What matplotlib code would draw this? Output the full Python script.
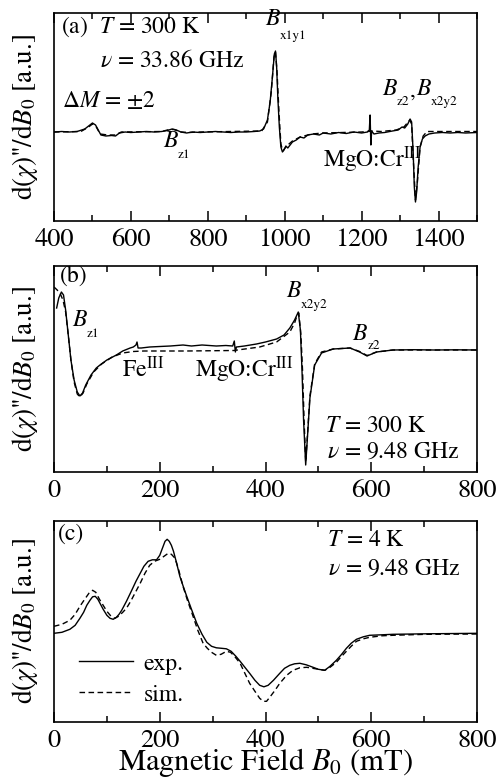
import matplotlib
matplotlib.use("Agg")
import matplotlib.pyplot as plt
from matplotlib.ticker import MultipleLocator

plt.rcParams['font.family'] = ['STIXGeneral', 'DejaVu Serif']
plt.rcParams['mathtext.fontset'] = 'stix'

# ---------------- data ----------------
# panel (a): 33.86 GHz, 300 K
a_exp_B = [400, 420, 440, 460, 480, 490, 500, 508, 515, 522, 535, 550, 560, 570, 585, 600, 620, 640,
           660, 680, 695, 707, 718, 730, 745, 760, 780, 800, 820, 840, 860, 880, 900, 920, 935, 945,
           955, 962, 968, 973, 976, 979, 982, 986, 990, 994, 998, 1003, 1008, 1014, 1020, 1030, 1040,
           1050, 1060, 1075, 1090, 1100, 1120, 1140, 1160, 1180, 1200, 1215, 1220, 1222, 1224, 1226,
           1232, 1245, 1260, 1280, 1295, 1305, 1312, 1320, 1326, 1330, 1334, 1337, 1340, 1343, 1347,
           1352, 1358, 1365, 1375, 1390, 1410, 1430, 1450, 1470, 1500]
a_exp_y = [0, 0.5, 0, 0.5, 3, 6, 9, 7, 2, -3, -4, -3.5, -4, -1, 0, -0.5, 0, 0.5,
           0, 0.5, 1.5, 3, 2, 0, -1, 0, -0.5, 0, 0.5, 0, -0.5, 0, 0, 0.5, 1, 3,
           12, 30, 55, 78, 81, 65, 35, 5, -15, -20, -18, -14, -16, -13, -10, -8, -5,
           -6, -3, -2, -3, -1, -2, -0.5, -1.5, 0, -1, 0, 2, 17, -13, 1,
           -2, -1, -0.5, 1, 2, 5, 4, 8, 13, 10, -20, -55, -70, -60, -35,
           -15, -7, -4, -2, -1, -0.5, -1, -0.5, -1, -0.5]
a_sim_B = [400, 470, 490, 500, 510, 520, 540, 560, 575, 680, 700, 712, 730, 750, 780, 940, 955, 965,
           972, 976, 980, 985, 990, 995, 1005, 1020, 1040, 1070, 1100, 1200, 1230, 1250, 1290, 1310,
           1325, 1330, 1334, 1340, 1345, 1352, 1360, 1370, 1500]
a_sim_y = [0, 0.5, 5, 8, 5, -2, -3, -3, 0, 0.5, 2.5, 2.5, 0, -0.5, 0, 1, 10, 40,
           75, 80, 60, 20, -12, -19, -14, -9, -5, -2, -1, 0, 1, 0.5, 2, 5,
           12, 8, -25, -68, -50, -15, -4, 0.5, 0.5]

# panel (b): 9.48 GHz, 300 K
b_exp_B = [5, 9, 14, 18, 22, 27, 32, 38, 44, 49, 54, 60, 70, 80, 87, 100, 118, 130, 144, 150, 155,
           157, 159, 165, 181, 200, 220, 244, 260, 280, 307, 325, 338, 341, 343, 345, 360, 383, 400,
           421, 435, 446, 455, 462, 466, 469, 472, 476, 479, 484, 493, 506, 528, 560, 578, 592, 610,
           641, 680, 720, 760, 800]
b_exp_y = [42, 52, 58, 55, 40, 15, -10, -30, -42, -46, -43, -35, -25, -18, -15, -10, -5, -1, 2, 3, 5,
           8, 2, 2, 3, 3.5, 4, 5, 4, 5, 4, 4.5, 4, 9, -2, 3, 4, 6, 8,
           11, 15, 22, 30, 38, 20, -20, -70, -115, -90, -48, -15, -3, 1, 2, -2, -6, -2,
           0, 0.3, 0, 0.2, 0]
b_sim_B = [0, 6, 12, 17, 22, 27, 32, 38, 44, 49, 55, 62, 75, 90, 110, 130, 150, 170, 250, 340, 389,
           421, 446, 455, 460, 463, 467, 470, 473, 476, 479, 484, 493, 506, 528, 560, 578, 592, 610,
           641, 800]
b_sim_y = [63, 60, 56, 50, 38, 15, -10, -32, -44, -47, -43, -34, -22, -14, -7, -3, -1.5, -1, -1, -0.5, 3,
           8, 18, 27, 35, 37, 15, -20, -70, -112, -88, -46, -14, -2, 1, 2, -1.5, -5.5, -2,
           0, 0]

# panel (c): 9.48 GHz, 4 K
c_exp_B = [0, 15, 30, 40, 49, 56, 62, 68, 73, 78, 83, 88, 93, 100, 106, 112, 118, 123, 128, 137,
           147, 155, 163, 170, 178, 186, 194, 200, 205, 210, 214, 218, 222, 226, 232, 238, 245, 251,
           260, 270, 280, 289, 298, 307, 317, 326, 335, 344, 352, 361, 370, 380, 389, 397, 405, 415,
           427, 436, 446, 455, 465, 477, 490, 500, 512, 522, 534, 544, 553, 562, 572, 585, 597, 620,
           641, 704, 800]
c_exp_y = [0, 1, 4, 8, 15, 21, 28, 33, 36.5, 37, 34, 29, 24, 18, 15, 14, 16, 19, 23, 32,
           43, 52, 60, 67, 72, 73.5, 73.5, 78, 85, 92, 94, 92, 88, 82, 70, 57, 46, 37,
           24, 10, -1, -9, -13, -14.5, -15, -15.5, -18, -23, -28, -34, -40, -47, -52, -53.5, -52, -47,
           -40, -35, -32, -30.5, -30, -31.5, -34, -36, -37, -33, -27, -21, -15, -10, -6, -3.5, -2, -1.5,
           -1, -0.5, 0]
c_sim_B = [0, 15, 30, 40, 49, 58, 66, 73, 79, 86, 93, 100, 108, 115, 122, 130, 137, 145, 155, 163,
           172, 181, 190, 200, 208, 216, 222, 229, 236, 244, 253, 263, 272, 282, 290, 298, 307, 316,
           326, 334, 343, 352, 361, 370, 380, 389, 396, 402, 408, 418, 427, 440, 452, 465, 478, 495,
           512, 522, 534, 544, 553, 562, 572, 585, 597, 620, 641, 704, 800]
c_sim_y = [7, 9, 13, 19, 27, 34, 40, 43, 41, 34, 28, 22, 17, 15, 17, 21, 25, 32, 42, 50,
           60, 68, 72, 74, 77, 80, 79, 75, 63, 47, 32, 17, 3, -10, -15, -19, -22, -21,
           -18, -19, -24, -30, -40, -50, -58, -65, -68, -68, -64, -57, -50, -42, -37, -34.5, -34, -35.5,
           -37, -34, -29, -23, -18, -13, -8, -5.5, -4, -2.5, -2, -1, -0.7]

# ---------------- figure ----------------
W, H = 496, 784
fig = plt.figure(figsize=(W / 100, H / 100), dpi=100)


def make_axes(top, bottom):
    left, right = 54, 477
    return fig.add_axes([left / W, 1 - bottom / H, (right - left) / W, (bottom - top) / H])


def style(ax, xlim, ylim, major, minor):
    ax.set_xlim(*xlim)
    ax.set_ylim(*ylim)
    ax.xaxis.set_major_locator(MultipleLocator(major))
    ax.xaxis.set_minor_locator(MultipleLocator(minor))
    ax.set_yticks([])
    ax.tick_params(axis='x', which='both', direction='in', top=True, bottom=True,
                   labelsize=19, width=1.1, pad=5)
    ax.tick_params(axis='x', which='major', length=7)
    ax.tick_params(axis='x', which='minor', length=4.5)
    for s in ax.spines.values():
        s.set_linewidth(1.2)
    ax.set_ylabel("d($\\chi$)''/d$B_0$ [a.u.]", fontsize=19.5)
    ax.yaxis.set_label_coords(-0.032, 0.5)


def ftext(x, y, s, size=17, **kw):
    fig.text(x / W, 1 - y / H, s, fontsize=size, va='baseline', ha='left', **kw)


def bsub(x, y, sub, xs, ys):
    ftext(x, y, "$B$")
    ftext(xs, ys, sub, size=9.5)


lw = 1.0
dash = (0, (4, 2.5))
ax1 = make_axes(12.7, 220.7)
ax1.plot(a_exp_B, a_exp_y, color='black', lw=lw)
ax1.plot(a_sim_B, a_sim_y, color='black', lw=lw, ls=dash)
style(ax1, (400, 1500), (-88.7, 119.3), 200, 100)

ax2 = make_axes(265.5, 472)
ax2.plot(b_exp_B, b_exp_y, color='black', lw=lw)
ax2.plot(b_sim_B, b_sim_y, color='black', lw=lw, ls=dash)
style(ax2, (0, 800), (-122, 84.5), 200, 100)

ax3 = make_axes(521, 722)
l1, = ax3.plot(c_exp_B, c_exp_y, color='black', lw=lw, label='exp.')
l2, = ax3.plot(c_sim_B, c_sim_y, color='black', lw=lw, ls=dash, label='sim.')
style(ax3, (0, 800), (-88.7, 112.3), 200, 100)
ax3.legend(handles=[l1, l2], loc='lower left', bbox_to_anchor=(0.036, 0.035), frameon=False,
           fontsize=17, handlelength=2.3, handletextpad=0.45, labelspacing=0.4, borderaxespad=0)
fig.text(265 / W, 1 - 770 / H, "Magnetic Field $B_0$ (mT)", fontsize=22,
         ha='center', va='baseline')

# ---------------- annotations ----------------
# panel (a)
ftext(61, 33, "(a)  $T$ = 300 K")
ftext(100, 67, "$\\nu$ = 33.86 GHz")
ftext(62, 107, "$\\Delta M$ = $\\pm$2")
bsub(265, 25, "x1y1", 280, 39)
bsub(163, 147, "z1", 178, 158)
ftext(323, 167, "MgO:Cr$^{\\rm III}$")
bsub(382, 95, "z2", 397, 105)
ftext(410, 97, ",")
bsub(416, 95, "x2y2", 431, 105)
# panel (b)
ftext(60, 282, "(b)")
bsub(72, 326, "z1", 87, 337)
ftext(122, 377, "Fe$^{\\rm III}$")
ftext(195, 377, "MgO:Cr$^{\\rm III}$")
bsub(286, 297, "x2y2", 301, 308)
bsub(352, 340, "z2", 368, 349)
ftext(325, 432, "$T$ = 300 K")
ftext(327, 458, "$\\nu$ = 9.48 GHz")
# panel (c)
ftext(58, 540, "(c)")
ftext(327, 546, "$T$ = 4 K")
ftext(328, 575, "$\\nu$ = 9.48 GHz")

fig.savefig("out.png", dpi=100)
